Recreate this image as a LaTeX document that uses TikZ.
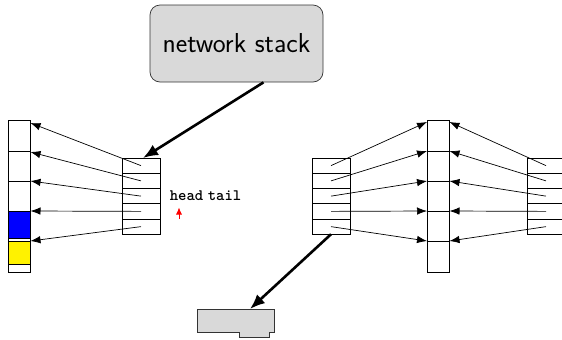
\documentclass[tikz,border=0pt]{standalone}
\usetikzlibrary{arrows.meta}
\begin{document}
\begin{tikzpicture}[x=1bp,y=-1bp,
 cell/.style={draw=black, line width=0.7bp, inner sep=0pt, outer sep=0pt, anchor=north west, minimum width=22.5bp},
 rowbox/.style={draw=black, line width=0.7bp, inner sep=0pt, outer sep=0pt, anchor=north west, minimum width=38bp, minimum height=15.25bp},
 thinarrow/.style={line width=0.7bp, -{Latex[length=10bp,width=7.5bp]}},
 thickarrow/.style={line width=2.6bp, -{Latex[length=15bp,width=12bp]}},
 graybox/.style={fill=black!15, draw=black!80, line width=0.7bp},
 labeltext/.style={font=\ttfamily\bfseries\fontsize{16}{18}\selectfont, inner sep=0pt}]
\useasboundingbox (0,0) rectangle (562,339);
\clip (0,0) rectangle (562,339);
% left column
\node[cell, minimum height=31bp] (L1) at (8,120) {};
\node[cell, minimum height=30bp] (L2) at (8,151) {};
\node[cell, minimum height=30bp] (L3) at (8,181) {};
\node[cell, minimum height=27bp, fill=blue] (L4) at (8,211) {};
\node[cell, minimum height=3bp] (L5) at (8,238) {};
\node[cell, minimum height=23bp, fill=yellow] (L6) at (8,241) {};
\node[cell, minimum height=8bp] (L7) at (8,264) {};
% middle column
\node[cell, minimum height=31bp] (M1) at (427,120) {};
\node[cell, minimum height=30bp] (M2) at (427,151) {};
\node[cell, minimum height=30bp] (M3) at (427,181) {};
\node[cell, minimum height=30bp] (M4) at (427,211) {};
\node[cell, minimum height=31bp] (M5) at (427,241) {};
% small boxes
\foreach \i in {1,...,5}{
  \node[rowbox] (A\i) at (122,{158+(\i-1)*15.25}) {};
  \node[rowbox] (B\i) at (312,{158+(\i-1)*15.25}) {};
  \node[rowbox] (C\i) at (527,{158+(\i-1)*15.25}) {};
}
% left arrows
\draw[thinarrow] (A1.center) -- ([yshift=-3bp]L1.north east);
\draw[thinarrow] (A2.center) -- ([yshift=-1bp]L2.north east);
\draw[thinarrow] (A3.center) -- (L3.north east);
\draw[thinarrow] (A4.center) -- (L4.north east);
\draw[thinarrow] (A5.center) -- (L6.north east);
% right arrows
\draw[thinarrow] (B1.center) -- ([yshift=-2bp]M1.north west);
\draw[thinarrow] (C1.center) -- ([yshift=-2bp]M1.north east);
\foreach \i in {2,...,5}{
  \draw[thinarrow] (B\i.center) -- (M\i.north west);
  \draw[thinarrow] (C\i.center) -- (M\i.north east);
}
% network stack
\node[graybox, rounded corners=10bp, minimum width=173bp, minimum height=77bp,
      font=\sffamily\fontsize{27.5}{32}\selectfont] (ns) at (236.5,43.5) {network stack};
\draw[thickarrow] ([xshift=27bp]ns.south) -- ([xshift=2bp]A1.north);
% device
\draw[graybox] (197,309) -- (274,309) -- (274,332) -- (269,332) -- (269,337)
  -- (239,337) -- (239,332) -- (197,332) -- cycle;
\coordinate (dev) at (250,309);
\draw[thickarrow] (B5.south) -- (dev);
% head / tail
\node[labeltext] (hd) at (186.5,196) {head};
\node[labeltext] (tl) at (224.5,196) {tail};
\coordinate (rb) at (179,219);
\coordinate (rt) at (179,207.5);
\draw[red, line width=0.8bp, -{Latex[length=7bp,width=6bp]}] (rb) -- (rt);
\end{tikzpicture}
\end{document}
